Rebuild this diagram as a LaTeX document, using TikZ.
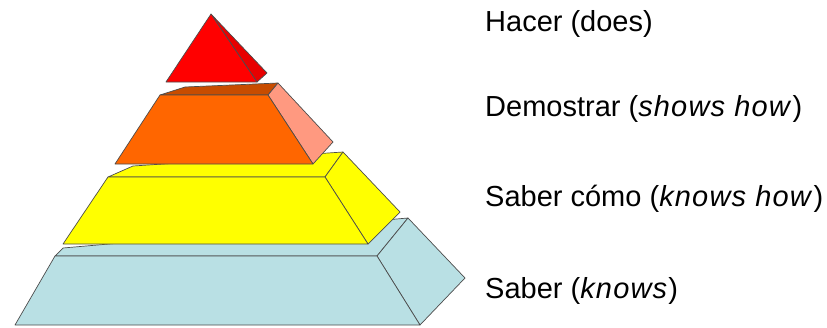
\documentclass[tikz,border=0pt]{standalone}
\usepackage{fontspec}
\setmainfont{Liberation Sans}[ItalicFeatures={LetterSpace=4}]
\usepackage{tikz}
\usetikzlibrary{calc}

\definecolor{knowsblue}{RGB}{185,224,228}
\definecolor{howyellow}{RGB}{255,255,0}
\definecolor{showsorange}{RGB}{255,102,0}
\definecolor{showstop}{RGB}{200,76,0}
\definecolor{showsside}{RGB}{255,153,128}
\definecolor{doesred}{RGB}{255,0,0}
\definecolor{doesside}{RGB}{232,0,0}

\begin{document}
\begin{tikzpicture}[x=1pt,y=-1pt,
    face/.style={draw=black!70,line width=0.7pt,line join=round},
    level/.style={anchor=base west,inner sep=0pt,font=\fontsize{29}{31}\selectfont}]
  \useasboundingbox (0,0) rectangle (827,327);
  % Saber
  \draw[face,fill=knowsblue] (55,256) -- (377,256) -- (408,218) -- (63,248) -- cycle;
  \draw[face,fill=knowsblue] (377,256) -- (408,218) -- (465,278) -- (420,325) -- cycle;
  \draw[face,fill=knowsblue] (15,325) -- (420,325) -- (377,256) -- (55,256) -- cycle;
  % Saber como
  \draw[face,fill=howyellow] (108,177) -- (325,177) -- (343,152) -- (133,166) -- cycle;
  \draw[face,fill=howyellow] (325,177) -- (343,152) -- (400,212) -- (368,244) -- cycle;
  \draw[face,fill=howyellow] (63,244) -- (368,244) -- (325,177) -- (108,177) -- cycle;
  % Demostrar
  \draw[face,fill=showstop] (160,95) -- (268,95) -- (278,83) -- (185,87) -- cycle;
  \draw[face,fill=showsside] (268,95) -- (278,83) -- (333,142) -- (313,164) -- cycle;
  \draw[face,fill=showsorange] (115,164) -- (313,164) -- (268,95) -- (160,95) -- cycle;
  % Hacer
  \coordinate (apex) at (211,14);
  \draw[face,fill=doesside] (apex) -- (267,73) -- (257,82) -- cycle;
  \draw[face,fill=doesred] (apex) -- (166,82) -- (257,82) -- cycle;
  % labels
  \node[level] (does) at (485,31.5) {Hacer (does)};
  \node[level] (shows) at (485,116) {Demostrar (\textit{shows how})};
  \node[level] (knowshow) at (485,206) {Saber cómo (\textit{knows how})};
  \node[level] (knows) at (485,298) {Saber (\textit{knows})};
\end{tikzpicture}
\end{document}
